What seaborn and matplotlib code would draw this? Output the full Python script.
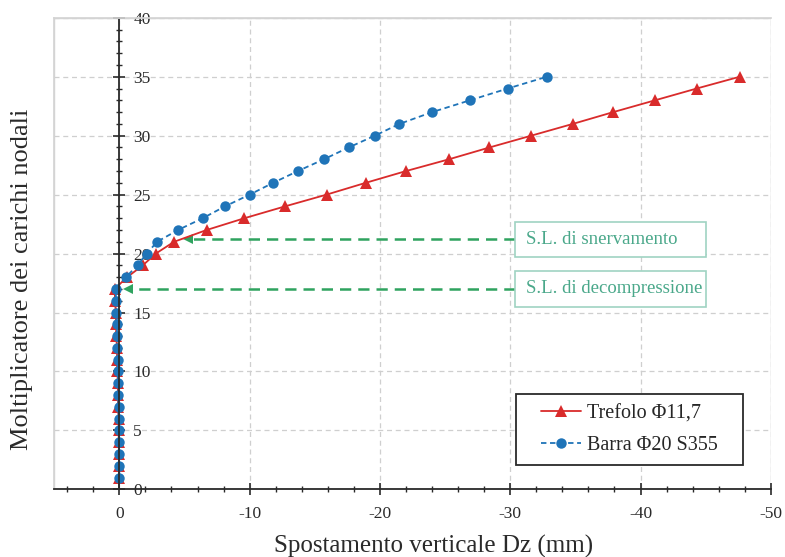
import matplotlib
matplotlib.use("Agg")
import matplotlib.pyplot as plt
from matplotlib.patches import Rectangle
from matplotlib.ticker import MultipleLocator
import pandas as pd
import seaborn as sns

# load multipliers (same steps for both series)
load_steps = list(range(1, 36))

# vertical displacement Dz (mm)
dz_trefolo = [0.01, 0.02, 0.03, 0.04, 0.05, 0.06, 0.08, 0.10, 0.12, 0.14, 0.16, 0.19,
              0.22, 0.25, 0.28, 0.32, 0.36, -0.6, -1.8, -2.8, -4.2, -6.7, -9.6, -12.7,
              -15.9, -18.9, -22.0, -25.3, -28.4, -31.6, -34.8, -37.9, -41.1, -44.3, -47.6]
dz_barra = [0.00, 0.01, 0.02, 0.03, 0.04, 0.05, 0.06, 0.07, 0.09, 0.11, 0.13, 0.15,
            0.17, 0.19, 0.22, 0.25, 0.28, -0.5, -1.4, -2.1, -2.9, -4.5, -6.4, -8.1,
            -10.0, -11.8, -13.7, -15.7, -17.6, -19.6, -21.5, -24.0, -26.9, -29.8, -32.8]

series_names = ["Trefolo \u03a611,7", "Barra \u03a620 S355"]

# limit states: level, arrow tip, label
sl_levels = [21.2, 17.0]
sl_tips = [-5.3, -0.7]
sl_labels = ["S.L. di snervamento", "S.L. di decompressione"]
sl_box_x = [-30.4, -45.0]

x_ticks = [0, -10, -20, -30, -40, -50]
y_ticks = [0, 5, 10, 15, 20, 25, 30, 35, 40]

RED = "#d92b2b"
BLUE = "#1f74b8"
GREEN = "#2fa35f"
TEAL = "#4aa88a"
DARK = "#2a2a2a"

sns.set_theme(style="white")
plt.rcParams["font.family"] = ["Liberation Serif", "DejaVu Serif"]

df = pd.concat([
    pd.DataFrame({"dz": dz_trefolo, "k": load_steps, "serie": series_names[0]}),
    pd.DataFrame({"dz": dz_barra, "k": load_steps, "serie": series_names[1]}),
])

fig = plt.figure(figsize=(7.85, 5.57), dpi=100)
ax = fig.add_axes([0.069, 0.1215, 0.913, 0.8465])

sns.lineplot(data=df[df.serie == series_names[0]], x="dz", y="k", ax=ax, sort=False,
             estimator=None, color=RED, lw=1.3, marker="^", markersize=8,
             markeredgewidth=0, label=series_names[0])
sns.lineplot(data=df[df.serie == series_names[1]], x="dz", y="k", ax=ax, sort=False,
             estimator=None, color=BLUE, lw=1.3, linestyle=(0, (3, 2)), marker="o",
             markersize=7.5, markeredgewidth=0, label=series_names[1])

# limit state arrows and boxes
for lev, tip, lab in zip(sl_levels, sl_tips, sl_labels):
    ax.plot([sl_box_x[0], tip], [lev, lev], color=GREEN, lw=1.8, ls=(0, (4.5, 2.8)), zorder=1)
    ax.plot([tip], [lev], marker="<", color=GREEN, markersize=7, markeredgewidth=0, zorder=1)
    ax.add_patch(Rectangle((sl_box_x[0], lev - 1.5), sl_box_x[1] - sl_box_x[0], 3.0,
                           fc="white", ec="#9fd3c2", lw=1.2, zorder=3))
    ax.text(sl_box_x[0] - 0.8, lev, lab, color=TEAL, fontsize=13.5, va="center",
            ha="left", zorder=4)

ax.set_xlim(5, -50)
ax.set_ylim(0, 40)

# y axis on the x = 0 line, labels to its right
ax.yaxis.tick_right()
ax.spines["right"].set_position(("data", 0))
ax.spines["right"].set_color(DARK)
ax.spines["right"].set_linewidth(1.3)
ax.spines["bottom"].set_color(DARK)
ax.spines["bottom"].set_linewidth(1.3)
ax.spines["left"].set_color("#d4d4d4")
ax.spines["top"].set_color("#d4d4d4")
ax.add_patch(Rectangle((0, 0), 1, 1, transform=ax.transAxes, fill=False,
                       ec="#d4d4d4", lw=1.0, zorder=0))

ax.set_xticks(x_ticks)
ax.set_xticklabels([str(t) for t in x_ticks])
ax.set_yticks(y_ticks)
ax.set_yticklabels([str(t) for t in y_ticks])
ax.xaxis.set_minor_locator(MultipleLocator(2))
ax.yaxis.set_minor_locator(MultipleLocator(1))
ax.tick_params(axis="x", which="major", direction="inout", length=8, width=1.2,
               colors=DARK, labelsize=12.5, pad=8, bottom=True)
ax.tick_params(axis="x", which="minor", direction="inout", length=5, width=1.0,
               colors=DARK, bottom=True)
ax.tick_params(axis="y", which="major", direction="inout", length=8, width=1.2,
               colors=DARK, labelsize=12.5, pad=6, right=True, left=False)
ax.tick_params(axis="y", which="minor", direction="inout", length=5, width=1.0,
               colors=DARK, right=True, left=False)

ax.grid(True, which="major", color="#cfcfcf", lw=0.9, ls=(0, (4, 3)))
ax.set_axisbelow(True)

ax.set_xlabel("Spostamento verticale Dz (mm)", fontsize=18, color=DARK)
ax.xaxis.set_label_coords(0.53, -0.097)
ax.set_ylabel("Moltiplicatore dei carichi nodali", fontsize=19, color=DARK)
ax.yaxis.set_label_position("left")
ax.yaxis.set_label_coords(-0.029, 0.446)

# legend: own frame, entries centred inside it
ax.add_patch(Rectangle((0.645, 0.052), 0.316, 0.150, transform=ax.transAxes,
                       fc="white", ec=DARK, lw=1.3, zorder=5))
leg = ax.legend(loc="center", bbox_to_anchor=(0.803, 0.127), fontsize=14.5,
                frameon=False, handlelength=2.0, borderpad=0.3, labelspacing=0.6,
                handletextpad=0.3)
leg.set_zorder(6)

fig.savefig("out.png", dpi=100)
